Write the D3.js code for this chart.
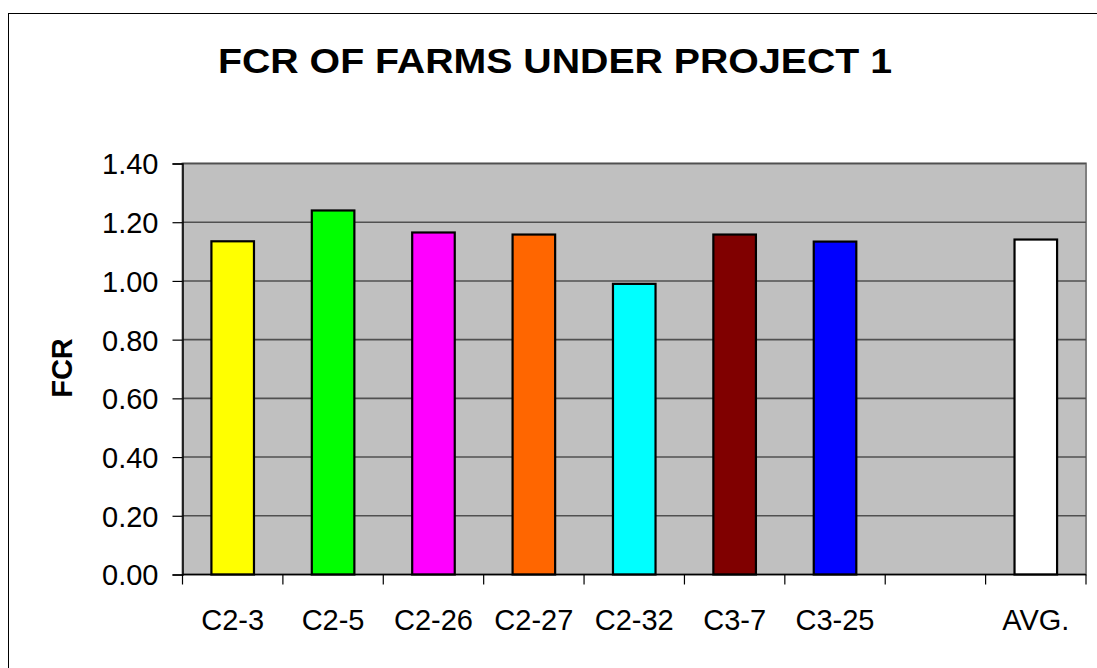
<!DOCTYPE html>
<html>
<head>
<meta charset="utf-8">
<script src="https://cdn.jsdelivr.net/npm/d3@7"></script>
<style>
  html, body { margin: 0; padding: 0; background: #fff; }
  svg { display: block; font-family: "Liberation Sans", Arial, sans-serif; }
</style>
</head>
<body>
<svg id="chart" width="1097" height="668"></svg>
<script>
// ---- data ----
const title = "FCR OF FARMS UNDER PROJECT 1";
const yAxisLabel = "FCR";
const categories = ["C2-3", "C2-5", "C2-26", "C2-27", "C2-32", "C3-7", "C3-25", "", "AVG."];
const fcrValues = [1.135, 1.24, 1.165, 1.158, 0.99, 1.158, 1.134, null, 1.141];
const barColors = ["#FFFF00", "#00FF00", "#FF00FF", "#FF6600", "#00FFFF", "#800000", "#0000FF", null, "#FFFFFF"];
const yTicks = [0, 0.2, 0.4, 0.6, 0.8, 1.0, 1.2, 1.4];

// ---- layout ----
const svg = d3.select("#chart");
const plot = { left: 182.5, right: 1086, top: 163.5, bottom: 574.5 };

// chart area border
svg.append("rect")
  .attr("x", 8.5).attr("y", 13.5)
  .attr("width", 1200).attr("height", 800)
  .attr("fill", "#fff").attr("stroke", "#000").attr("stroke-width", 1);

const x = d3.scaleBand()
  .domain(categories)
  .range([plot.left, plot.right])
  .paddingInner(0.576)
  .paddingOuter(0.288);

const xEdges = d3.scaleBand().domain(categories).range([plot.left, plot.right]).padding(0);

const y = d3.scaleLinear().domain([0, 1.4]).range([plot.bottom, plot.top]);

// plot area background
svg.append("rect")
  .attr("x", plot.left).attr("y", plot.top)
  .attr("width", plot.right - plot.left).attr("height", plot.bottom - plot.top)
  .attr("fill", "#C0C0C0").attr("stroke", "#808080").attr("stroke-width", 2);

// gridlines
svg.append("g").selectAll("line")
  .data(yTicks.filter(d => d > 0))
  .join("line")
  .attr("x1", plot.left).attr("x2", plot.right)
  .attr("y1", d => y(d)).attr("y2", d => y(d))
  .attr("stroke", "#505050").attr("stroke-width", 1.6);

// bars
svg.append("g").selectAll("rect")
  .data(categories.map((c, i) => ({ c, v: fcrValues[i], col: barColors[i] })).filter(d => d.v != null))
  .join("rect")
  .attr("x", d => x(d.c))
  .attr("width", x.bandwidth())
  .attr("y", d => y(d.v))
  .attr("height", d => y(0) - y(d.v))
  .attr("fill", d => d.col)
  .attr("stroke", "#000").attr("stroke-width", 2.2);

// y axis
const yAxis = d3.axisLeft(y).tickValues(yTicks).tickFormat(d3.format(".2f")).tickSize(10).tickPadding(14);
const gy = svg.append("g").attr("transform", `translate(${plot.left},0)`).call(yAxis);
gy.select(".domain").attr("stroke", "#000").attr("stroke-width", 1.5);
gy.selectAll(".tick line").attr("stroke", "#000").attr("stroke-width", 1.2);
gy.selectAll(".tick text").attr("font-size", 29).attr("fill", "#000")
  .attr("font-family", "'Liberation Sans', Arial, sans-serif").attr("dy", "0.36em");

// x axis: ticks between categories
const edgeVals = categories.map(c => xEdges(c)).concat([plot.right]);
const gx = svg.append("g");
gx.append("line")
  .attr("x1", plot.left).attr("x2", plot.right)
  .attr("y1", plot.bottom).attr("y2", plot.bottom)
  .attr("stroke", "#000").attr("stroke-width", 1.5);
gx.selectAll("line.tk").data(edgeVals).join("line").attr("class", "tk")
  .attr("x1", d => d).attr("x2", d => d)
  .attr("y1", plot.bottom).attr("y2", plot.bottom + 10)
  .attr("stroke", "#000").attr("stroke-width", 1.2);
gx.selectAll("text").data(categories).join("text")
  .attr("x", d => xEdges(d) + xEdges.bandwidth() / 2)
  .attr("y", 630)
  .attr("text-anchor", "middle")
  .attr("font-size", 29)
  .attr("fill", "#000")
  .text(d => d);

// title
svg.append("text")
  .attr("x", 218)
  .attr("y", 73)
  .attr("text-anchor", "start")
  .attr("font-size", 35).attr("font-weight", "bold")
  .attr("textLength", 674).attr("lengthAdjust", "spacingAndGlyphs")
  .text(title);

// y label
svg.append("text")
  .attr("transform", `translate(72, 368) rotate(-90)`)
  .attr("text-anchor", "middle")
  .attr("font-size", 29).attr("font-weight", "bold")
  .text(yAxisLabel);
</script>
</body>
</html>
